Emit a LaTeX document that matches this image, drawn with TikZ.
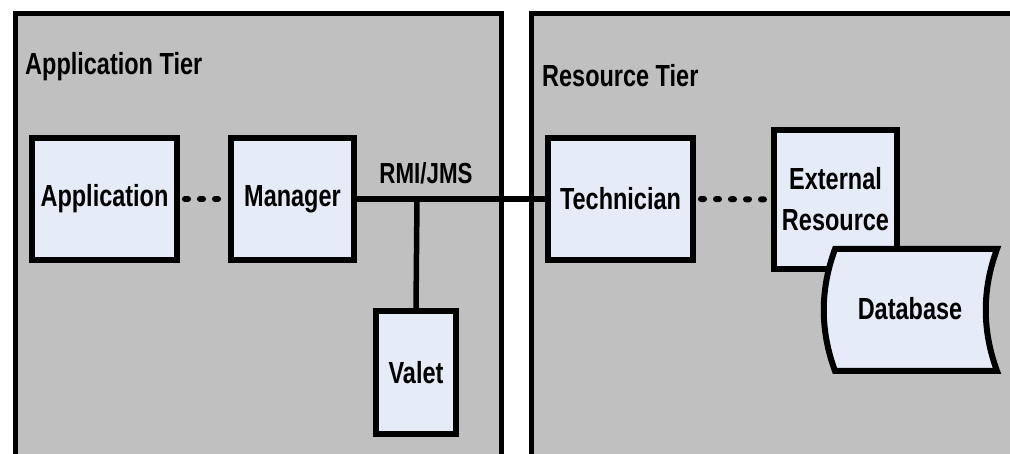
\documentclass[tikz,border=0pt]{standalone}
\usepackage{fontspec}
\setmainfont[FakeStretch=0.77]{Liberation Sans}
\definecolor{tierfill}{HTML}{C0C0C0}
\definecolor{boxfill}{HTML}{E6ECF7}
\begin{document}
\begin{tikzpicture}[x=1pt,y=-1pt,
  tier/.style={draw=black,line width=5pt,fill=tierfill},
  tiertitle/.style={anchor=west,inner sep=0pt,font=\fontsize{30.5}{34}\selectfont\bfseries},
  compbox/.style={draw=black,line width=6pt,fill=boxfill,inner sep=0pt,align=center,
    font=\fontsize{30.5}{41}\selectfont\bfseries},
  link/.style={line width=5.5pt},
  dotlink/.style={line width=6pt,dash pattern=on 3pt off 12pt,line cap=round},
  lbl/.style={inner sep=0pt,font=\fontsize{29}{34}\selectfont\bfseries}]
\useasboundingbox (0,0) rectangle (1010,454);
\clip (0,0) rectangle (1010,454);
\fill[white] (0,0) rectangle (1010,454);
% tiers
\draw[tier] (15,14) rectangle (501,480);
\draw[tier] (531,14) rectangle (1040,480);
\node[tiertitle] (apptitle) at (25,67) {Application Tier};
\node[tiertitle] (restitle) at (542,76) {Resource Tier};
% components
\node[compbox,minimum width=145,minimum height=122] (app) at (104.5,199) {Application};
\node[compbox,minimum width=123,minimum height=122] (mgr) at (292.5,199) {Manager};
\node[compbox,minimum width=80,minimum height=123] (valet) at (416,372.5) {Valet};
\node[compbox,minimum width=145,minimum height=122] (tech) at (620.5,199) {Technician};
\node[compbox,minimum width=123,minimum height=139] (ext) at (835.5,199.5) {External\\Resource};
% database (stored data shape)
\coordinate (dbnw) at (835,249);
\coordinate (dbne) at (997,249);
\coordinate (dbse) at (997,371);
\coordinate (dbsw) at (835,371);
\filldraw[fill=boxfill,draw=black,line width=6pt,line join=miter]
  (dbnw) -- (dbne) .. controls (982,290) and (982,330) .. (dbse)
  -- (dbsw) .. controls (820,330) and (820,290) .. (dbnw) -- cycle;
\node[lbl,font=\fontsize{30.5}{34}\selectfont\bfseries] (db) at (910,309) {Database};
% connectors
\coordinate (tap) at (417,199);
\draw[dotlink] ([xshift=5pt]app.east) -- (mgr.west);
\draw[link] (mgr.east) -- (tech.west);
\draw[link] (tap) -- (valet.north);
\draw[dotlink] ([xshift=5pt]tech.east) -- (ext.west);
\node[lbl] (rmi) at (426,173) {RMI/JMS};
\end{tikzpicture}
\end{document}
